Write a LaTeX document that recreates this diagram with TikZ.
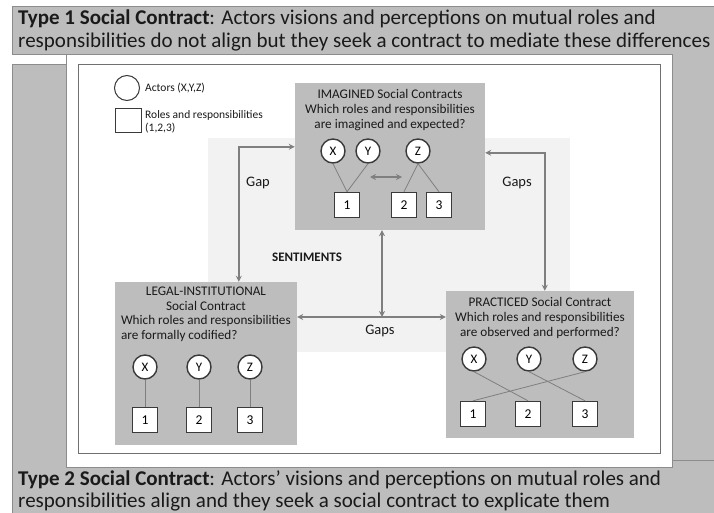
\documentclass[tikz,border=0pt]{standalone}
\usepackage{fontspec}
\setmainfont{Carlito}
\usetikzlibrary{arrows.meta,positioning}
\definecolor{scBox}{HTML}{BDBDBD}
\definecolor{scEdge}{HTML}{8C8C8C}
\definecolor{scArrow}{HTML}{7F7F7F}
\definecolor{scInk}{HTML}{3A3A3A}
\definecolor{scHaze}{HTML}{F2F2F2}
\definecolor{scText}{HTML}{1A1A1A}
\tikzset{
  bannerText/.style={
    anchor=north west,
    align=left,
    text=scText,
    font=\fontsize{21}{22.5}\selectfont,
    inner sep=0pt
  },
  contractBox/.style={fill=scBox, inner sep=0pt},
  boxText/.style={
    anchor=north,
    align=center,
    text=scText,
    font=\fontsize{13.2}{15.2}\selectfont,
    inner sep=0pt
  },
  actorNode/.style={
    circle,
    draw=scInk,
    line width=1.4pt,
    fill=white,
    minimum size=24pt,
    inner sep=0pt,
    font=\fontsize{13}{13}\selectfont
  },
  roleNode/.style={
    rectangle,
    draw=scInk,
    line width=1.4pt,
    fill=white,
    minimum size=25pt,
    inner sep=0pt,
    font=\fontsize{13.5}{13.5}\selectfont
  },
  tieLine/.style={draw=scArrow, line width=0.8pt},
  gapArrow/.style={{Stealth[length=6pt,width=6pt]}-{Stealth[length=6pt,width=6pt]},
    draw=scArrow, line width=1.8pt},
  gapLabel/.style={font=\fontsize{14.5}{14.5}\selectfont, text=scText, inner sep=0pt},
  legendText/.style={anchor=west, align=left, text=scText,
    font=\fontsize{11.5}{13}\selectfont, inner sep=0pt}
}
\begin{document}
\begin{tikzpicture}[x=1pt,y=-1pt]
  \useasboundingbox (0,0) rectangle (714,513);

  % the two contract types behind the frame
  \filldraw[fill=scBox, draw=scEdge, line width=1pt] (12,65) rectangle (716,515);
  \filldraw[fill=scBox, draw=scEdge, line width=1pt]
    (716,7) -- (12,7) -- (12,55) -- (672,55) -- (672,460) -- (716,460);
  \filldraw[fill=white, draw=scEdge, line width=1pt] (66,55) rectangle (672,467);
  \filldraw[fill=white, draw=scEdge!80!black, line width=1pt] (78,65) rectangle (660,453);

  \node[bannerText] (typeOne) at (18,10)
    {\textbf{Type 1 Social Contract}: Actors visions and perceptions on mutual roles and\\
     responsibilities do not align but they seek a contract to mediate these differences};
  \node[bannerText] (typeTwo) at (18,470)
    {\textbf{Type 2 Social Contract}: Actors’ visions and perceptions on mutual roles and\\
     responsibilities align and they seek a social contract to explicate them};

  % legend
  \node[circle, draw=scInk, line width=1pt, minimum size=25pt, inner sep=0pt] (legActor) at (127,88) {};
  \node[draw=scInk, line width=1pt, minimum width=26pt, minimum height=24pt, inner sep=0pt] (legRole) at (128,121) {};
  \node[legendText] (legActorText) at (145,88) {Actors (X,Y,Z)};
  \node[legendText, anchor=north west] (legRoleText) at (145,110) {Roles and responsibilities\\(1,2,3)};

  % sentiments area
  \fill[scHaze] (208,138) rectangle (570,352);
  \node[font=\bfseries\fontsize{13}{13}\selectfont, text=scText, inner sep=0pt] (sentiments) at (307,257) {SENTIMENTS};

  % imagined
  \node[contractBox, minimum width=190pt, minimum height=147pt] (imag) at (390,156.5) {};
  \node[boxText] (imagText) at ([yshift=-6pt]imag.north)
    {IMAGINED Social Contracts\\Which roles and responsibilities\\are imagined and expected?};
  \node[actorNode] (iX) at (333,151) {X};
  \node[actorNode] (iY) at (368,151) {Y};
  \node[actorNode] (iZ) at (418,151) {Z};
  \node[roleNode] (iR1) at (347,205) {1};
  \node[roleNode] (iR2) at (404,205) {2};
  \node[roleNode] (iR3) at (439,205) {3};
  \draw[tieLine] (iX.south) -- (iR1.north);
  \draw[tieLine] (iY.south) -- (iR1.north);
  \draw[tieLine] (iZ.south) -- (iR2.north);
  \draw[tieLine] (iZ.south) -- (iR3.north);
  \coordinate (swapL) at (370,177);
  \coordinate (swapR) at (402,177);
  \draw[gapArrow, line width=1.3pt] (swapL) -- (swapR);

  % legal-institutional
  \node[contractBox, minimum width=182pt, minimum height=163pt] (legal) at (206,363.5) {};
  \node[boxText] (legalTitle) at ([yshift=-5pt]legal.north)
    {LEGAL-INSTITUTIONAL\\Social Contract};
  \node[boxText, anchor=north west, align=left] (legalAsk) at ([xshift=6pt,yshift=-4pt]legalTitle.south -| legal.west)
    {Which roles and responsibilities\\are formally codified?};
  \node[actorNode] (lX) at (145,367) {X};
  \node[actorNode] (lY) at (199,367) {Y};
  \node[actorNode] (lZ) at (250,367) {Z};
  \node[roleNode] (lR1) at (145,420) {1};
  \node[roleNode] (lR2) at (199,420) {2};
  \node[roleNode] (lR3) at (250,420) {3};
  \draw[tieLine] (lX) -- (lR1);
  \draw[tieLine] (lY) -- (lR2);
  \draw[tieLine] (lZ) -- (lR3);

  % practiced
  \node[contractBox, minimum width=188pt, minimum height=147pt] (prac) at (540,364.5) {};
  \node[boxText] (pracText) at ([yshift=-6pt]prac.north)
    {PRACTICED Social Contract\\Which roles and responsibilities\\are observed and performed?};
  \node[actorNode] (pX) at (474,359) {X};
  \node[actorNode] (pY) at (529,359) {Y};
  \node[actorNode] (pZ) at (585,359) {Z};
  \node[roleNode] (pR1) at (473,414) {1};
  \node[roleNode] (pR2) at (528,414) {2};
  \node[roleNode] (pR3) at (585,414) {3};
  \draw[tieLine] (pX.south) -- (pR2.north);
  \draw[tieLine] (pY.south) -- (pR3.north);
  \draw[tieLine] (pZ.south) -- (pR1.north);

  % gaps between the contracts
  \coordinate (hub) at (382,317);
  \draw[gapArrow] ([yshift=-64pt]imag.north west) -| ([xshift=124pt]legal.north west);
  \draw[gapArrow] ([yshift=-70pt]imag.north east) -| ([xshift=99pt]prac.north west);
  \draw[gapArrow] (legal.east |- hub) -- (prac.west |- hub);
  \draw[gapArrow] (imag.south -| hub) -- (hub);
  \node[gapLabel] (gapLeft) at (258,183) {Gap};
  \node[gapLabel] (gapRight) at (517,183) {Gaps};
  \node[gapLabel] (gapMid) at (380,331) {Gaps};
\end{tikzpicture}
\end{document}
